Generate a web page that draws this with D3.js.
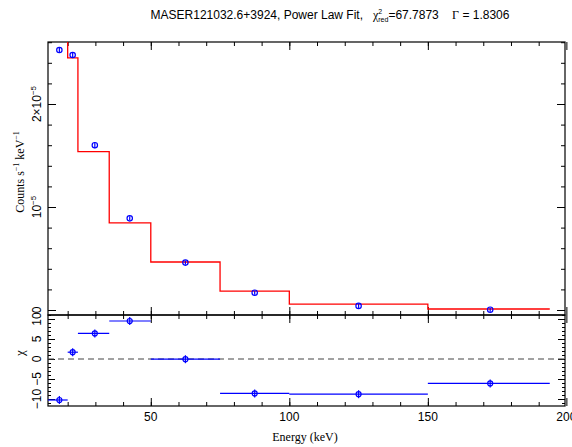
<!DOCTYPE html>
<html>
<head>
<meta charset="utf-8">
<script src="https://cdn.jsdelivr.net/npm/d3@7"></script>
<style>
  body { margin: 0; background: #fff; }
  svg { display: block; }
  .tick line { stroke: #000; }
  text { white-space: pre; }
</style>
</head>
<body>
<div id="chart"></div>
<script>
// spectrum bins (keV)
var binLo  = [12, 20, 23.7, 35, 50, 75, 100, 150];
var binHi  = [20, 23.7, 35, 50, 75, 100, 150, 194];
var energy = [17, 21.8, 29.8, 42.4, 62.5, 87.5, 125, 172.5];
// counts s^-1 keV^-1, in units of 1e-5
var counts   = [2.524, 2.476, 1.60, 0.89, 0.46, 0.168, 0.04, 0.003];
var countErr = [0.03, 0.03, 0.03, 0.02, 0.02, 0.02, 0.02, 0.02];
var model    = [3.2, 2.447, 1.537, 0.845, 0.466, 0.184, 0.058, 0.01];
// residuals
var chi    = [-10.25, 1.7, 6.4, 9.5, -0.05, -8.6, -8.8, -6.1];
var chiErr = [1, 1, 1, 1, 1, 1, 1, 1];

var xMajor = [50, 100, 150, 200],
    xMinor = d3.range(20, 200, 10),
    yTopMajor = [0, 1, 2],
    yTopMinor = d3.range(0, 2.61, 0.2),
    yBotMajor = [-10, -5, 0, 5, 10],
    yBotMinor = d3.range(-11, 11.1, 1);

var W = 572, H = 447,
    left = 48, right = 565,
    topY = 42, midY = 315, botY = 406;

var svg = d3.select("#chart").append("svg")
  .attr("width", W).attr("height", H);

var x = d3.scaleLinear().domain([12.9, 199.5]).range([left, right]);
var yTop = d3.scaleLinear().domain([-0.0485, 2.602]).range([midY, topY]);
var yBot = d3.scaleLinear().domain([-11.75, 11]).range([botY, midY]);

var defs = svg.append("defs");
defs.append("clipPath").attr("id", "clipTop").append("rect")
  .attr("x", left).attr("y", topY).attr("width", right - left).attr("height", midY - topY);
defs.append("clipPath").attr("id", "clipBot").append("rect")
  .attr("x", left).attr("y", midY).attr("width", right - left).attr("height", botY - midY);

//tick helper - ticks always point into the panel
function ticks(axisFn, scale, vals, size, tx, ty) {
  svg.append("g")
    .attr("transform", "translate(" + tx + "," + ty + ")")
    .call(axisFn(scale).tickValues(vals).tickSize(-size).tickFormat(""))
    .call(function (g) { g.select(".domain").remove(); })
    .selectAll("line").attr("stroke-width", 1);
}

// x ticks, both panels
ticks(d3.axisTop, x, xMinor, 4, 0, topY);
ticks(d3.axisTop, x, xMajor, 8, 0, topY);
ticks(d3.axisBottom, x, xMinor, 4, 0, midY);
ticks(d3.axisBottom, x, xMajor, 8, 0, midY);
ticks(d3.axisTop, x, xMinor, 4, 0, midY);
ticks(d3.axisTop, x, xMajor, 8, 0, midY);
ticks(d3.axisBottom, x, xMinor, 4, 0, botY);
ticks(d3.axisBottom, x, xMajor, 8, 0, botY);
// y ticks
ticks(d3.axisLeft, yTop, yTopMinor, 4, left, 0);
ticks(d3.axisLeft, yTop, yTopMajor, 8, left, 0);
ticks(d3.axisRight, yTop, yTopMinor, 4, right, 0);
ticks(d3.axisRight, yTop, yTopMajor, 8, right, 0);
ticks(d3.axisLeft, yBot, yBotMinor, 3, left, 0);
ticks(d3.axisLeft, yBot, yBotMajor, 7, left, 0);
ticks(d3.axisRight, yBot, yBotMinor, 3, right, 0);
ticks(d3.axisRight, yBot, yBotMajor, 7, right, 0);

// frames
svg.append("rect").attr("x", left).attr("y", topY).attr("width", right - left).attr("height", midY - topY)
  .attr("fill", "none").attr("stroke", "#000").attr("stroke-width", 1.2);
svg.append("rect").attr("x", left).attr("y", midY).attr("width", right - left).attr("height", botY - midY)
  .attr("fill", "none").attr("stroke", "#000").attr("stroke-width", 1.2);

// model steps
var stepPts = binLo.map(function (d, i) { return [d, model[i]]; });
stepPts.push([binHi[binHi.length - 1], model[model.length - 1]]);
var gTop = svg.append("g").attr("clip-path", "url(#clipTop)");
gTop.append("path")
  .attr("d", d3.line().x(function (d) { return x(d[0]); }).y(function (d) { return yTop(d[1]); })
    .curve(d3.curveStepAfter)(stepPts))
  .attr("fill", "none").attr("stroke", "#ff0000").attr("stroke-width", 1.3);

// data points
energy.forEach(function (e, i) {
  gTop.append("line")
    .attr("x1", x(e)).attr("x2", x(e))
    .attr("y1", yTop(counts[i] - countErr[i])).attr("y2", yTop(counts[i] + countErr[i]))
    .attr("stroke", "#0000ff").attr("stroke-width", 1.2);
  gTop.append("circle")
    .attr("cx", x(e)).attr("cy", yTop(counts[i])).attr("r", 2.7)
    .attr("fill", "none").attr("stroke", "#0000ff").attr("stroke-width", 1.2);
});

// residuals
var gBot = svg.append("g").attr("clip-path", "url(#clipBot)");
gBot.append("line")
  .attr("x1", left).attr("x2", right).attr("y1", yBot(0)).attr("y2", yBot(0))
  .attr("stroke", "#444").attr("stroke-width", 1.2).attr("stroke-dasharray", "6,4");
energy.forEach(function (e, i) {
  gBot.append("line")
    .attr("x1", x(binLo[i])).attr("x2", x(binHi[i]))
    .attr("y1", yBot(chi[i])).attr("y2", yBot(chi[i]))
    .attr("stroke", "#0000ff").attr("stroke-width", 1.2);
  gBot.append("line")
    .attr("x1", x(e)).attr("x2", x(e))
    .attr("y1", yBot(chi[i] - chiErr[i])).attr("y2", yBot(chi[i] + chiErr[i]))
    .attr("stroke", "#0000ff").attr("stroke-width", 1.2);
  gBot.append("circle")
    .attr("cx", x(e)).attr("cy", yBot(chi[i])).attr("r", 2.5)
    .attr("fill", "none").attr("stroke", "#0000ff").attr("stroke-width", 1.2);
});

var sans = "'Liberation Sans', Arial, sans-serif",
    serif = "'Liberation Serif', 'Times New Roman', serif";

// x tick labels
svg.selectAll(".xlab").data(xMajor).enter().append("text")
  .attr("x", function (d) { return x(d); }).attr("y", 421)
  .attr("text-anchor", "middle").attr("font-family", sans).attr("font-size", 12)
  .text(function (d) { return d; });

// top y labels
var topLabels = [{v: 0, a: "0", s: ""}, {v: 1, a: "10", s: "\u22125"}, {v: 2, a: "2\u00d710", s: "\u22125"}];
topLabels.forEach(function (d) {
  var t = svg.append("text")
    .attr("transform", "translate(41," + yTop(d.v) + ") rotate(-90)")
    .attr("text-anchor", "middle").attr("font-family", sans).attr("font-size", 12);
  t.append("tspan").text(d.a);
  if (d.s) t.append("tspan").attr("font-size", 8).attr("dy", -5).text(d.s);
});
// bottom y labels
yBotMajor.forEach(function (v) {
  svg.append("text")
    .attr("transform", "translate(41," + yBot(v) + ") rotate(-90)")
    .attr("text-anchor", "middle").attr("font-family", sans).attr("font-size", 12)
    .text(v < 0 ? "\u2212" + (-v) : v);
});

// axis titles
var yt = svg.append("text")
  .attr("transform", "translate(24,172) rotate(-90)")
  .attr("text-anchor", "middle").attr("font-family", serif).attr("font-size", 12);
yt.append("tspan").text("Counts s");
yt.append("tspan").attr("font-size", 8).attr("dy", -5).text("\u22121");
yt.append("tspan").attr("dy", 5).text(" keV");
yt.append("tspan").attr("font-size", 8).attr("dy", -5).text("\u22121");

svg.append("text")
  .attr("transform", "translate(24,353) rotate(-90)")
  .attr("text-anchor", "middle").attr("font-family", serif).attr("font-size", 13)
  .text("\u03c7");

svg.append("text")
  .attr("x", 305).attr("y", 441)
  .attr("text-anchor", "middle").attr("font-family", serif).attr("font-size", 12)
  .text("Energy (keV)");

// title
var title = svg.append("text")
  .attr("x", 330).attr("y", 19)
  .attr("text-anchor", "middle").attr("font-family", sans).attr("font-size", 12);
title.append("tspan").text("MASER121032.6+3924, Power Law Fit,   ");
title.append("tspan").attr("font-family", serif).text("\u03c7");
title.append("tspan").attr("font-size", 7).attr("dy", -5).text("2");
title.append("tspan").attr("font-size", 7).attr("dx", -4).attr("dy", 8).text("red");
title.append("tspan").attr("dy", -3).text("=67.7873    ");
title.append("tspan").attr("font-family", serif).text("\u0393");
title.append("tspan").text(" = 1.8306");
</script>
</body>
</html>
